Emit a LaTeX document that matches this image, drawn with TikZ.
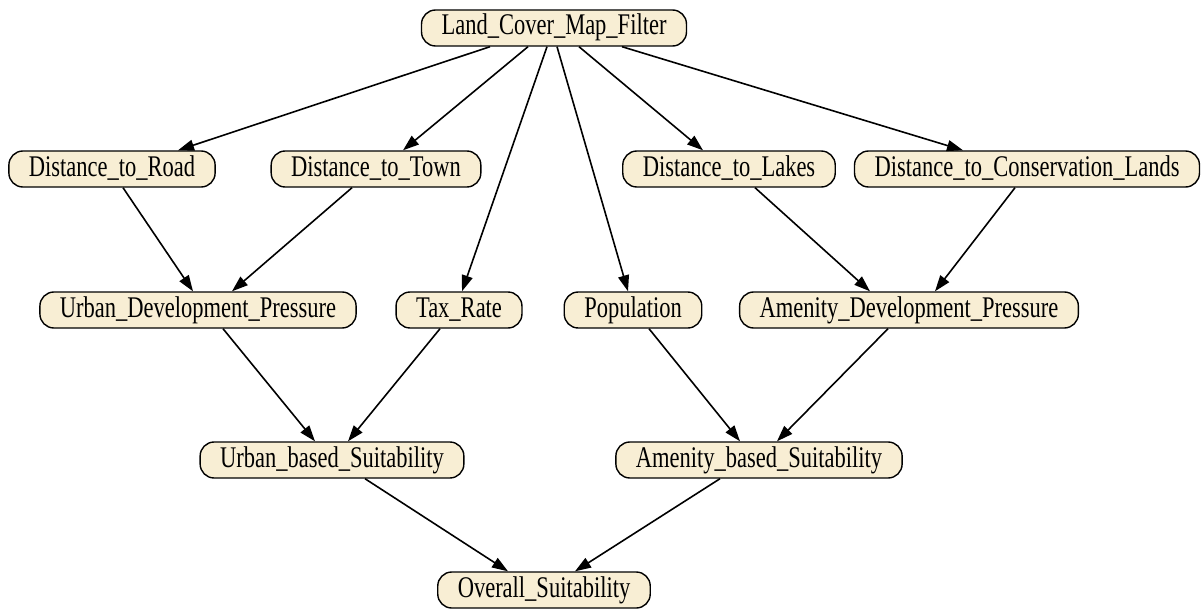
\documentclass[tikz,border=0pt]{standalone}
\usepackage{fontspec}
\setmainfont{Liberation Serif}[FakeStretch=0.75]
\usetikzlibrary{arrows.meta}
\definecolor{nodefill}{RGB}{248,238,212}
\tikzset{
  bn/.style={draw=black, line width=1.4pt, fill=nodefill, rounded corners=14pt,
    minimum height=36pt, inner xsep=20pt, inner ysep=0pt,
    text height=20pt, text depth=6pt,
    font=\fontsize{30}{32}\selectfont},
  link/.style={line width=1.6pt, -{Triangle[length=16pt,width=11pt]}}
}
\begin{document}
\begin{tikzpicture}[x=1pt,y=-1pt]
\useasboundingbox (0,0) rectangle (1201,610);
\node[bn] (lc) at (554,28) {Land\_Cover\_Map\_Filter};
\node[bn] (dtr) at (112,169) {Distance\_to\_Road};
\node[bn] (dtt) at (376,169) {Distance\_to\_Town};
\node[bn] (dtl) at (729,169) {Distance\_to\_Lakes};
\node[bn] (dtc) at (1027,169) {Distance\_to\_Conservation\_Lands};
\node[bn] (udp) at (198,310) {Urban\_Development\_Pressure};
\node[bn] (tax) at (459,310) {Tax\_Rate};
\node[bn] (pop) at (633,310) {Population};
\node[bn] (adp) at (909,310) {Amenity\_Development\_Pressure};
\node[bn] (ubs) at (332,460) {Urban\_based\_Suitability};
\node[bn] (abs) at (759,460) {Amenity\_based\_Suitability};
\node[bn] (os) at (544,590) {Overall\_Suitability};

\draw[link] ([xshift=-64pt]lc.south) -- ([xshift=66pt]dtr.north);
\draw[link] ([xshift=-26pt]lc.south) -- ([xshift=27pt]dtt.north);
\draw[link] ([xshift=-7pt]lc.south) -- ([xshift=3pt]tax.north);
\draw[link] ([xshift=3pt]lc.south) -- ([xshift=-5pt]pop.north);
\draw[link] ([xshift=25pt]lc.south) -- ([xshift=-26pt]dtl.north);
\draw[link] ([xshift=68pt]lc.south) -- ([xshift=-64pt]dtc.north);
\draw[link] ([xshift=11pt]dtr.south) -- ([xshift=-5pt]udp.north);
\draw[link] ([xshift=-24pt]dtt.south) -- ([xshift=34pt]udp.north);
\draw[link] ([xshift=26pt]dtl.south) -- ([xshift=-39pt]adp.north);
\draw[link] ([xshift=-12pt]dtc.south) -- ([xshift=26pt]adp.north);
\draw[link] ([xshift=25pt]udp.south) -- ([xshift=-17pt]ubs.north);
\draw[link] ([xshift=-19pt]tax.south) -- ([xshift=16pt]ubs.north);
\draw[link] ([xshift=16pt]pop.south) -- ([xshift=-19pt]abs.north);
\draw[link] ([xshift=-21pt]adp.south) -- ([xshift=18pt]abs.north);
\draw[link] ([xshift=33pt]ubs.south) -- ([xshift=-36pt]os.north);
\draw[link] ([xshift=-39pt]abs.south) -- ([xshift=31pt]os.north);
\end{tikzpicture}
\end{document}
